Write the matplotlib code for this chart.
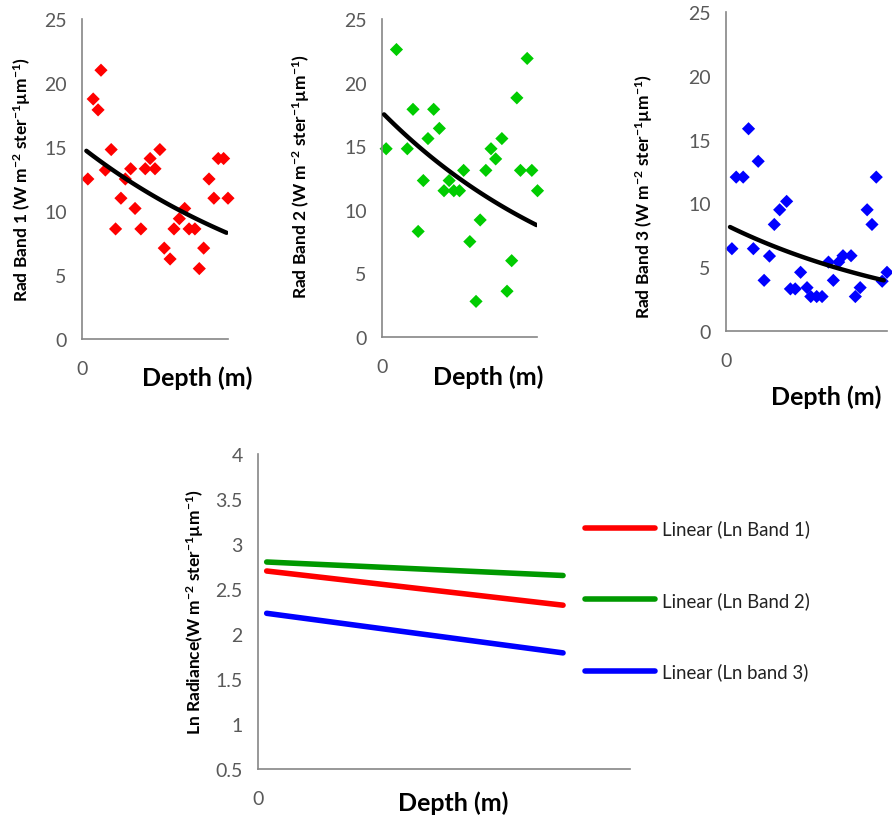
import numpy as np
import matplotlib
matplotlib.use("Agg")
import matplotlib.pyplot as plt

plt.rcParams['font.family'] = ['Lato', 'DejaVu Sans']
plt.rcParams['mathtext.fontset'] = 'custom'
plt.rcParams['mathtext.rm'] = 'Lato:bold'
plt.rcParams['mathtext.bf'] = 'Lato:bold'
plt.rcParams['mathtext.it'] = 'Lato:bold'
plt.rcParams['mathtext.default'] = 'bf'

# ---------------- data ----------------
depth1 = [1.2, 2.3, 3.3, 3.9, 4.8, 6.0, 6.9, 8.0, 8.9, 10.0, 10.9, 12.1, 13.0, 14.0, 15.0,
          16.0, 16.9, 18.1, 18.9, 20.0, 21.1, 22.0, 23.2, 24.1, 25.0, 26.1, 27.1, 28.0, 29.1, 30.0]
band1 = [12.5, 18.75, 17.9, 21.0, 13.2, 14.8, 8.6, 11.0, 12.5, 13.3, 10.2, 8.6, 13.3, 14.1, 13.3,
         14.8, 7.1, 6.25, 8.6, 9.4, 10.2, 8.6, 8.6, 5.5, 7.1, 12.5, 11.0, 14.1, 14.1, 11.0]

depth2 = [0.8, 2.8, 4.9, 6.0, 7.0, 8.0, 8.9, 10.0, 11.1, 12.0, 13.0, 13.9, 15.0, 15.8,
          17.0, 18.2, 19.0, 20.1, 21.1, 22.0, 23.2, 24.2, 25.1, 26.1, 26.8, 28.1, 29.0, 30.1]
band2 = [14.8, 22.6, 14.8, 17.9, 8.3, 12.3, 15.6, 17.9, 16.4, 11.5, 12.3, 11.5, 11.5, 13.1,
         7.5, 2.8, 9.2, 13.1, 14.8, 14.0, 15.6, 3.6, 6.0, 18.8, 13.1, 21.9, 13.1, 11.5]

depth3 = [1.1, 1.9, 3.2, 4.2, 5.1, 6.0, 7.1, 8.1, 9.0, 10.0, 11.3, 12.0, 12.9, 13.9, 15.1,
          15.8, 16.9, 17.9, 19.1, 20.0, 21.0, 21.8, 23.3, 24.1, 25.0, 26.3, 27.2, 28.0, 29.1, 30.0]
band3 = [6.45, 12.06, 12.06, 15.85, 6.45, 13.3, 3.97, 5.87, 8.35, 9.5, 10.16, 3.3, 3.3, 4.6, 3.4,
         2.7, 2.7, 2.7, 5.4, 3.97, 5.4, 5.9, 5.9, 2.7, 3.4, 9.5, 8.35, 12.06, 3.9, 4.6]

# exponential trend lines (start/end)
trend1_x = [0.9, 29.7]
trend1_y = [14.7, 8.3]
trend2_x = [0.4, 29.9]
trend2_y = [17.5, 8.8]
trend3_x = [0.75, 29.4]
trend3_y = [8.15, 3.97]

# linear trends of ln radiance
ln_depth = [0.7, 24.6]
ln_band1 = [2.70, 2.32]
ln_band2 = [2.80, 2.65]
ln_band3 = [2.23, 1.79]
ln_labels = ['Linear (Ln Band 1)', 'Linear (Ln Band 2)', 'Linear (Ln band 3)']

yticks_top = [0, 5, 10, 15, 20, 25]
yticks_bottom = [0.5, 1, 1.5, 2, 2.5, 3, 3.5, 4]

# ---------------- figure ----------------
W, H = 892, 820
fig = plt.figure(figsize=(W / 100, H / 100), dpi=100)

def fx(px):
    return px / W

def fy(py):
    return 1 - py / H

def make_ax(l, r, t, b):
    return fig.add_axes([fx(l), fy(b), fx(r - l), (b - t) / H])

tick_col = '#595959'
spine_col = '#868686'
ylab = r'(W m$^{-2}$ ster$^{-1}$µm$^{-1}$)'

def style(ax, yticks, xmax):
    for s in ['top', 'right']:
        ax.spines[s].set_visible(False)
    for s in ['left', 'bottom']:
        ax.spines[s].set_color(spine_col)
        ax.spines[s].set_linewidth(1.2)
    ax.set_yticks(yticks)
    ax.set_yticklabels([('%g' % v) for v in yticks])
    ax.set_ylim(yticks[0], yticks[-1])
    ax.set_xlim(0, xmax)
    ax.set_xticks([0])
    ax.set_xticklabels(['0'])
    ax.tick_params(length=0, labelsize=14, colors=tick_col, pad=11)
    ax.tick_params(axis='x', pad=15)

def exp_trend(ax, xs, ys):
    xx = np.linspace(xs[0], xs[1], 100)
    b = np.log(ys[1] / ys[0]) / (xs[1] - xs[0])
    yy = ys[0] * np.exp(b * (xx - xs[0]))
    ax.plot(xx, yy, color='black', lw=3.2, solid_capstyle='round', zorder=3)

panels = [
    ((82, 228, 20, 340), depth1, band1, '#FF0000', trend1_x, trend1_y,
     'Rad Band 1 ', (22, 180), (197, 378)),
    ((382, 537, 20, 338), depth2, band2, '#00CC00', trend2_x, trend2_y,
     'Rad Band 2 ', (301, 177), (488, 377)),
    ((726, 887, 13, 332), depth3, band3, '#0000FF', trend3_x, trend3_y,
     'Rad Band 3 ', (644, 197), (826, 397)),
]

for box, xs, ys, col, tx, ty, lab, ylpos, xlpos in panels:
    ax = make_ax(*box)
    style(ax, yticks_top, 30)
    ax.scatter(xs, ys, marker='D', s=45, color=col, edgecolors='none', zorder=2, clip_on=False)
    exp_trend(ax, tx, ty)
    fig.text(fx(ylpos[0]), fy(ylpos[1]), lab + ylab, rotation=90, ha='center', va='center',
             fontsize=12.5, fontweight='bold', color='black')
    fig.text(fx(xlpos[0]), fy(xlpos[1]), 'Depth (m)', ha='center', va='center',
             fontsize=18, fontweight='bold', color='black')

# bottom panel
ax4 = make_ax(258, 630, 455, 770)
style(ax4, yticks_bottom, 30)
cols4 = ['#FF0000', '#009900', '#0000FF']
for yv, c, l in zip([ln_band1, ln_band2, ln_band3], cols4, ln_labels):
    ax4.plot(ln_depth, yv, color=c, lw=4, solid_capstyle='round', label=l)
fig.text(fx(195), fy(612), 'Ln Radiance' + ylab, rotation=90, ha='center', va='center',
         fontsize=12.5, fontweight='bold', color='black')
fig.text(fx(453), fy(803), 'Depth (m)', ha='center', va='center',
         fontsize=18, fontweight='bold', color='black')

leg = fig.legend(loc='center left', bbox_to_anchor=(fx(585), fy(601)), frameon=False,
                 fontsize=13.4, handlelength=3.76, handletextpad=0.38, labelspacing=2.88,
                 borderpad=0, borderaxespad=0)
for t in leg.get_texts():
    t.set_color('#222222')

fig.savefig('out.png', dpi=100)
